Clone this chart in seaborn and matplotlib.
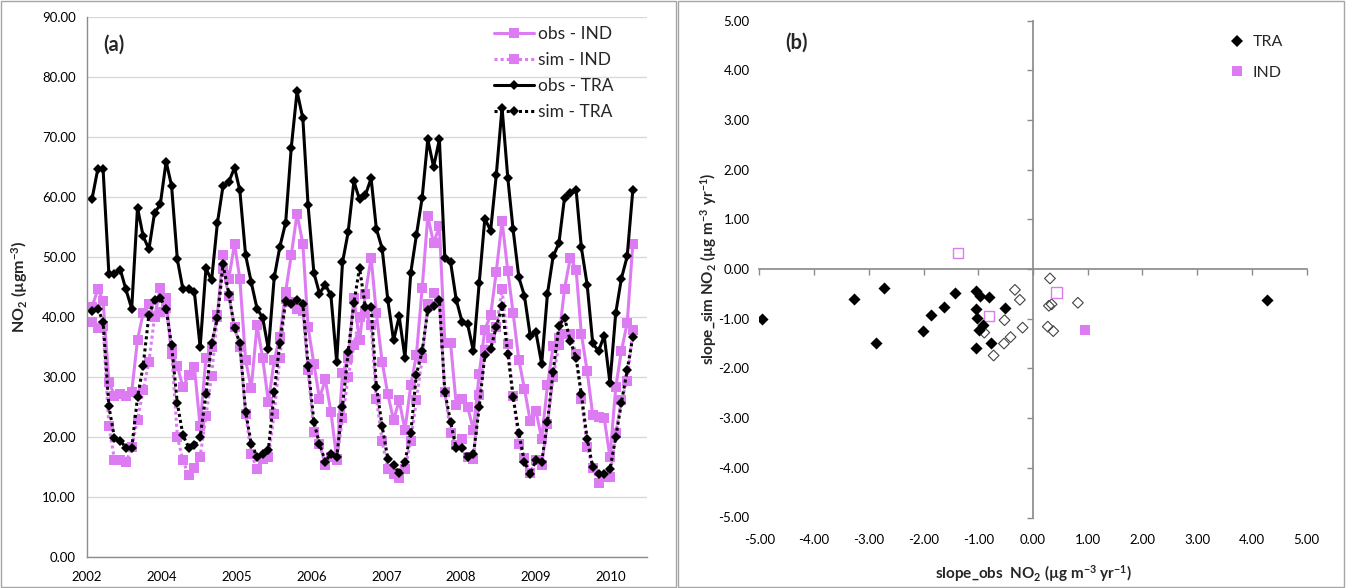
import numpy as np
import pandas as pd
import matplotlib
matplotlib.use("Agg")
import matplotlib.pyplot as plt
import matplotlib.dates as mdates
import seaborn as sns
from matplotlib.lines import Line2D
from matplotlib.patches import Rectangle

sns.set_theme(style="white")
plt.rcParams["font.family"] = ["Lato", "DejaVu Sans"]
plt.rcParams["mathtext.fontset"] = "custom"
plt.rcParams["mathtext.rm"] = "Lato"
plt.rcParams["mathtext.bf"] = "Lato:bold"
plt.rcParams["mathtext.it"] = "Lato:italic"

# ---------------- data: panel (a) monthly NO2 ----------------
months = pd.date_range("2003-01-01", periods=96, freq="MS")

obs_ind = [41.7, 44.6, 42.7, 29.2, 26.9, 27.1, 26.8, 27.5, 36.2, 40.6,
           42.2, 40.0, 44.8, 43.1, 33.9, 31.8, 28.3, 30.3, 31.7, 21.8,
           33.2, 35.0, 40.3, 50.4, 46.4, 52.2, 46.4, 32.8, 28.1, 38.6,
           33.2, 25.8, 32.8, 36.7, 44.2, 50.3, 57.2, 52.2, 38.3, 32.2,
           26.4, 29.6, 24.2, 16.4, 30.6, 33.1, 43.1, 36.1, 43.9, 49.9,
           40.6, 32.5, 27.2, 22.8, 26.1, 21.2, 28.6, 33.6, 44.8, 56.8,
           52.3, 55.1, 35.7, 35.6, 25.4, 26.4, 25.0, 21.2, 30.5, 37.9,
           40.3, 47.5, 56.0, 47.6, 40.7, 32.8, 28.0, 22.6, 24.4, 19.7,
           28.6, 35.1, 36.5, 44.7, 49.9, 47.9, 37.2, 31.0, 23.6, 23.3,
           23.2, 16.6, 28.3, 34.3, 39.0, 52.1]

sim_ind = [39.2, 38.1, 38.5, 21.8, 16.2, 16.1, 15.8, 18.3, 22.9, 27.8,
           32.5, 40.0, 40.8, 41.5, 34.5, 20.0, 16.1, 13.6, 14.9, 16.7,
           23.5, 30.2, 40.0, 48.0, 43.5, 38.3, 35.0, 23.9, 17.2, 14.7,
           16.4, 16.7, 23.9, 33.2, 43.0, 42.5, 41.4, 41.0, 31.1, 20.8,
           18.8, 15.4, 16.7, 16.1, 23.1, 30.0, 35.3, 40.0, 40.7, 38.6,
           26.4, 19.3, 14.6, 13.9, 13.1, 14.6, 19.4, 26.1, 33.1, 42.1,
           44.0, 42.5, 27.5, 20.6, 18.6, 19.7, 16.7, 16.4, 27.0, 34.5,
           36.5, 38.3, 44.6, 35.5, 26.9, 18.9, 16.5, 14.0, 16.1, 15.3,
           22.2, 30.0, 35.3, 37.2, 37.1, 33.8, 26.4, 18.3, 14.9, 12.3,
           13.3, 13.4, 20.6, 26.1, 29.4, 37.8]

obs_tra = [59.7, 64.7, 64.6, 47.2, 47.2, 47.9, 44.6, 41.4, 58.2, 53.5,
           51.3, 57.3, 58.8, 65.9, 61.9, 49.6, 44.6, 44.7, 44.2, 35.0,
           48.1, 46.1, 55.6, 61.8, 62.5, 64.9, 61.1, 50.3, 45.8, 41.4,
           39.9, 34.6, 46.6, 51.7, 55.7, 68.2, 77.6, 73.1, 58.6, 47.4,
           43.9, 45.4, 43.6, 32.5, 49.1, 54.1, 62.6, 59.6, 60.3, 63.1,
           54.7, 51.4, 42.9, 36.1, 40.1, 33.2, 47.4, 53.6, 59.9, 69.6,
           65.0, 69.6, 49.9, 49.1, 42.9, 39.2, 38.8, 34.3, 45.7, 56.4,
           54.4, 63.6, 74.9, 63.1, 54.6, 46.6, 43.5, 36.8, 37.5, 32.2,
           43.9, 50.1, 52.3, 59.9, 60.6, 61.2, 51.6, 45.4, 35.6, 34.3,
           36.9, 29.0, 40.7, 46.4, 50.1, 61.1]

sim_tra = [41.0, 41.4, 39.2, 25.1, 19.8, 19.4, 18.2, 18.1, 26.6, 31.8,
           40.4, 42.8, 43.2, 41.4, 35.3, 25.6, 20.3, 18.2, 18.6, 20.0,
           27.2, 35.6, 39.8, 48.8, 43.9, 38.1, 35.7, 24.2, 18.9, 16.7,
           17.1, 17.9, 27.5, 35.7, 42.7, 42.2, 42.9, 42.2, 31.9, 22.5,
           18.9, 15.9, 17.2, 16.6, 25.0, 34.1, 42.3, 48.2, 41.7, 41.7,
           28.4, 21.8, 16.4, 15.3, 14.0, 15.9, 20.6, 30.4, 34.3, 41.2,
           41.8, 42.8, 27.5, 22.5, 18.1, 18.2, 16.7, 17.1, 25.0, 33.7,
           34.7, 38.3, 41.8, 33.9, 26.7, 20.6, 15.8, 13.9, 16.1, 15.8,
           22.5, 30.8, 38.5, 39.9, 36.0, 33.2, 27.1, 19.7, 15.0, 13.9,
           13.9, 14.6, 20.0, 25.7, 31.1, 36.7]

series_labels = ["obs - IND", "sim - IND", "obs - TRA", "sim - TRA"]

# ---------------- data: panel (b) trend slopes ----------------
tra_sig_x = [-4.95, -3.27, -2.73, -2.86, -2.01, -1.86, -1.62, -1.43, -1.05, -0.97,
             -0.81, -1.05, -1.02, -0.52, -0.91, -0.99, -0.76, -1.05, 4.27]
tra_sig_y = [-1.00, -0.61, -0.39, -1.48, -1.24, -0.92, -0.77, -0.48, -0.44, -0.54,
             -0.57, -0.81, -0.98, -0.79, -1.13, -1.23, -1.48, -1.58, -0.63]
tra_ns_x = [-0.33, -0.24, -0.52, -0.19, -0.89, -0.41, -0.53, -0.72, 0.31, 0.29,
            0.34, 0.27, 0.37, 0.82]
tra_ns_y = [-0.42, -0.62, -1.03, -1.18, -1.28, -1.37, -1.50, -1.74, -0.19, -0.74,
            -0.71, -1.16, -1.25, -0.68]
ind_sig_x = [0.95]
ind_sig_y = [-1.22]
ind_ns_x = [-1.37, -0.80, 0.43]
ind_ns_y = [0.32, -0.94, -0.47]

# ---------------- styling ----------------
PINK = "#DD7BF3"
AXIS_GRAY = "#8c8c8c"
GRID_GRAY = "#d9d9d9"
TICK_FS = 9.5

W, H = 1346, 588
fig = plt.figure(figsize=(W / 100, H / 100), dpi=100)

# chart borders
fig.patches.append(Rectangle((1 / W, 1 / H), 675 / W, 586 / H, transform=fig.transFigure,
                             fill=False, edgecolor="#a6a6a6", lw=1.0))
fig.patches.append(Rectangle((678 / W, 1 / H), 666 / W, 586 / H, transform=fig.transFigure,
                             fill=False, edgecolor="#a6a6a6", lw=1.0))

# ---------------- panel (a) ----------------
axa = fig.add_axes([87 / W, 1 - 557 / H, (647 - 87) / W, (557 - 17) / H])
common = dict(ax=axa, errorbar=None, legend=False, linewidth=2.2)
sns.lineplot(x=months, y=obs_ind, color=PINK, marker="s", markersize=7,
             markeredgecolor=PINK, markeredgewidth=0, **common)
sns.lineplot(x=months, y=sim_ind, color=PINK, linestyle=(0, (1, 1)), marker="s",
             markersize=7, markeredgecolor=PINK, markeredgewidth=0, **common)
sns.lineplot(x=months, y=obs_tra, color="black", marker="D", markersize=5.5,
             markeredgecolor="black", markeredgewidth=0, **common)
sns.lineplot(x=months, y=sim_tra, color="black", linestyle=(0, (1, 1)), marker="D",
             markersize=5.5, markeredgecolor="black", markeredgewidth=0, **common)

axa.set_ylim(0, 90)
axa.set_yticks(np.arange(0, 91, 10))
axa.yaxis.set_major_formatter(matplotlib.ticker.FormatStrFormatter("%.2f"))
axa.set_xlim(pd.Timestamp("2002-12-05"), pd.Timestamp("2011-02-15"))
axa.set_xticks(pd.date_range("2002-12-05", periods=8, freq="400D"))
axa.xaxis.set_major_formatter(mdates.DateFormatter("%Y"))
axa.grid(axis="y", color=GRID_GRAY, lw=1.0)
axa.grid(axis="x", visible=False)
for s in ["top", "right"]:
    axa.spines[s].set_visible(False)
for s in ["left", "bottom"]:
    axa.spines[s].set_color(AXIS_GRAY)
    axa.spines[s].set_linewidth(1.0)
axa.tick_params(axis="both", direction="out", length=4, width=1, color=AXIS_GRAY,
                labelsize=TICK_FS, pad=4, labelcolor="black")
axa.tick_params(axis="x", pad=6)
axa.set_xlabel("")
axa.set_ylabel(r"NO$_\mathbf{2}$ (µgm$^\mathbf{-3}$)", fontsize=11.5, fontweight="bold")
axa.yaxis.set_label_coords(-0.102, 0.5)
axa.text(0.029, 0.948, "(a)", transform=axa.transAxes, fontsize=14.5, fontweight="bold",
         va="center", ha="left")

handles_a = [
    Line2D([], [], color=PINK, lw=2.2, marker="s", ms=7, mew=0),
    Line2D([], [], color=PINK, lw=2.2, ls=(0, (1, 1)), marker="s", ms=7, mew=0),
    Line2D([], [], color="black", lw=2.2, marker="D", ms=5.5, mew=0),
    Line2D([], [], color="black", lw=2.2, ls=(0, (1, 1)), marker="D", ms=5.5, mew=0),
]
axa.legend(handles_a, series_labels, loc="upper left", bbox_to_anchor=(0.727, 0.983),
           frameon=False, fontsize=12.5, handlelength=2.3, handletextpad=0.2,
           labelspacing=0.58, borderaxespad=0, borderpad=0)

# ---------------- panel (b) ----------------
axb = fig.add_axes([759.3 / W, 1 - 517.5 / H, (1306.7 - 759.3) / W, (517.5 - 20.5) / H])
sns.scatterplot(x=tra_ns_x, y=tra_ns_y, ax=axb, marker="D", s=30, color="black",
                facecolor="none", edgecolor="#444444", linewidth=0.8, zorder=3)
sns.scatterplot(x=ind_ns_x, y=ind_ns_y, ax=axb, marker="s", s=55, color=PINK,
                facecolor="none", edgecolor=PINK, linewidth=1.0, zorder=3)
sns.scatterplot(x=tra_sig_x, y=tra_sig_y, ax=axb, marker="D", s=38, color="black",
                edgecolor="black", linewidth=0, zorder=4)
sns.scatterplot(x=ind_sig_x, y=ind_sig_y, ax=axb, marker="s", s=60, color=PINK,
                edgecolor=PINK, linewidth=0, zorder=4)

ticks_b = np.arange(-5, 6, 1)
axb.set_xlim(-5, 5)
axb.set_ylim(-5, 5)
axb.set_xticks(ticks_b)
axb.set_yticks(ticks_b)
axb.xaxis.set_major_formatter(matplotlib.ticker.FormatStrFormatter("%.2f"))
axb.yaxis.set_major_formatter(matplotlib.ticker.FormatStrFormatter("%.2f"))
axb.tick_params(axis="both", length=0, labelsize=TICK_FS, labelcolor="black")
axb.tick_params(axis="x", pad=12)
axb.tick_params(axis="y", pad=7)
axb.grid(False)
for s in axb.spines.values():
    s.set_visible(False)

sx = axb.secondary_xaxis(0.5)
sx.set_xticks(ticks_b)
sx.tick_params(axis="x", direction="in", length=4, width=1, color=AXIS_GRAY,
               labeltop=False, labelbottom=False)
for s in sx.spines.values():
    s.set_color(AXIS_GRAY)
sy = axb.secondary_yaxis(0.5)
sy.set_yticks(ticks_b)
sy.tick_params(axis="y", direction="in", length=4, width=1, color=AXIS_GRAY,
               labelleft=False, labelright=False)
for s in sy.spines.values():
    s.set_color(AXIS_GRAY)

axb.set_xlabel(r"slope_obs  NO$_\mathbf{2}$ (µg m$^\mathbf{-3}$ yr$^\mathbf{-1}$)",
               fontsize=11, fontweight="bold", labelpad=12)
axb.set_ylabel(r"slope_sim NO$_\mathbf{2}$ (µg m$^\mathbf{-3}$ yr$^\mathbf{-1}$)",
               fontsize=11, fontweight="bold")
axb.yaxis.set_label_coords(-0.074, 0.5)
axb.text(0.048, 0.955, "(b)", transform=axb.transAxes, fontsize=14.5, fontweight="bold",
         va="center", ha="left")

handles_b = [
    Line2D([], [], color="black", ls="none", marker="D", ms=6, mew=0),
    Line2D([], [], color=PINK, ls="none", marker="s", ms=7.5, mew=0),
]
axb.legend(handles_b, ["TRA", "IND"], loc="upper left", bbox_to_anchor=(0.858, 0.971),
           frameon=False, fontsize=11.5, handlelength=1.0, handletextpad=0.5,
           labelspacing=1.04, borderaxespad=0, borderpad=0)

fig.savefig("out.png", dpi=100)
